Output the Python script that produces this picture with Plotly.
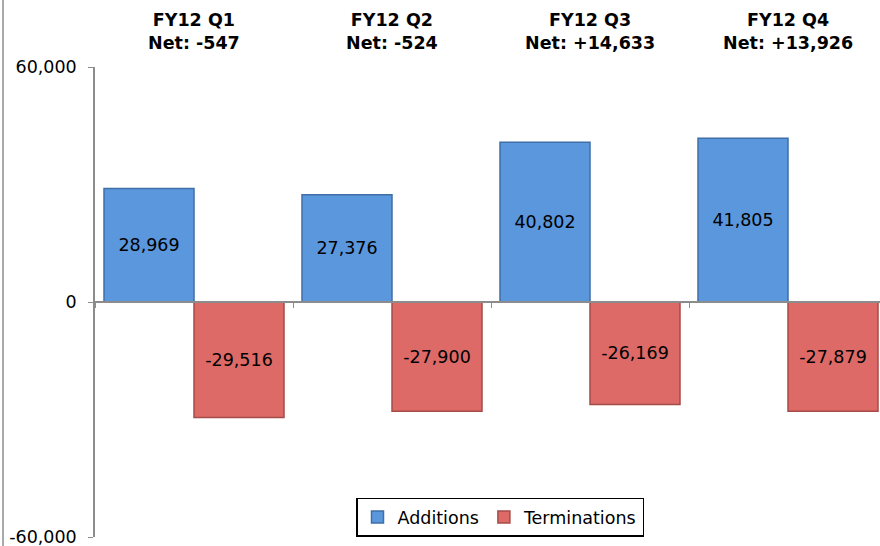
import plotly.graph_objects as go

quarters = ["FY12 Q1", "FY12 Q2", "FY12 Q3", "FY12 Q4"]
additions = [28969, 27376, 40802, 41805]
terminations = [-29516, -27900, -26169, -27879]
y_tick_vals = [-60000, 0, 60000]
y_tick_text = ["-60,000", "0", "60,000"]

FONT = "Verdana, DejaVu Sans, sans-serif"
FS = 17.5
W, H = 880, 546
ML, MR, MT, MB = 95, 0, 67, 9
plot_w = W - ML - MR
plot_h = H - MT - MB
cat_px = 198.0

fig = go.Figure()
fig.add_trace(go.Bar(
    name="Additions", x=quarters, y=additions,
    text=[f"{v:,}" for v in additions],
    textposition="inside", insidetextanchor="middle",
    textfont=dict(color="black", size=FS, family=FONT),
    marker=dict(color="#5b97dd", line=dict(color="#3f6fa6", width=1.5)),
))
fig.add_trace(go.Bar(
    name="Terminations", x=quarters, y=terminations,
    text=[f"{v:,}" for v in terminations],
    textposition="inside", insidetextanchor="middle",
    textfont=dict(color="black", size=FS, family=FONT),
    marker=dict(color="#dd6a66", line=dict(color="#a54c49", width=1.5)),
))

for i, q in enumerate(quarters):
    net = additions[i] + terminations[i]
    net_s = f"+{net:,}" if net > 0 else f"{net:,}"
    fig.add_annotation(
        x=q, xref="x", y=1 + (MT - 31) / plot_h, yref="paper",
        text=f"<b>{q}<br>Net: {net_s}</b>", showarrow=False,
        yanchor="middle", xanchor="center", align="center",
        font=dict(size=FS, color="black", family=FONT),
    )

# left border line of the frame
fig.add_shape(type="line", xref="paper", yref="paper",
              x0=-(ML - 3) / plot_w, x1=-(ML - 3) / plot_w,
              y0=-MB / plot_h, y1=1 + MT / plot_h,
              line=dict(color="#8c8c8c", width=1.5))

fig.update_layout(
    width=W, height=H,
    margin=dict(l=ML, r=MR, t=MT, b=MB, autoexpand=False),
    paper_bgcolor="white", plot_bgcolor="white",
    barmode="group", bargap=18 / 198, bargroupgap=0,
    font=dict(family=FONT, size=FS, color="black"),
    showlegend=True,
    legend=dict(
        orientation="h", x=(500 - ML) / plot_w, xanchor="center",
        y=(H - MB - 517) / plot_h, yanchor="middle",
        bgcolor="white", bordercolor="black", borderwidth=1.5,
        font=dict(size=FS, family=FONT), itemwidth=30,
    ),
    xaxis=dict(
        type="category", range=[-0.5, -0.5 + plot_w / cat_px],
        anchor="free", position=0.5,
        showline=True, linecolor="#8c8c8c", linewidth=1.5,
        ticks="outside", tickson="boundaries", ticklen=5, tickcolor="#8c8c8c",
        showticklabels=False, showgrid=False, zeroline=False,
    ),
    yaxis=dict(
        range=[-60000, 60000], tickvals=y_tick_vals, ticktext=y_tick_text,
        showline=True, linecolor="#8c8c8c", linewidth=1.5,
        ticks="outside", ticklen=5, tickcolor="#8c8c8c",
        showgrid=False, zeroline=False, ticklabelstandoff=8,
        ticklabeloverflow="allow",
        tickfont=dict(size=FS, family=FONT),
    ),
)

fig.write_html(
    "out.html",
    config={"displayModeBar": False},
    post_script="document.body.style.margin='0';document.body.style.overflow='hidden';",
)
